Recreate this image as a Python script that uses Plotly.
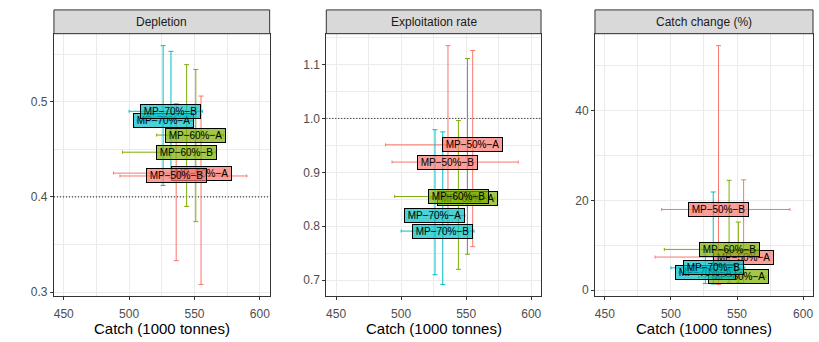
import plotly.graph_objects as go

# ---------------- data ----------------
mps = ["MP−50%−A", "MP−50%−B", "MP−60%−A", "MP−60%−B", "MP−70%−A", "MP−70%−B"]
groups = ["50%", "50%", "60%", "60%", "70%", "70%"]

catch_med = [555, 536, 551, 544, 526, 532]
catch_lo = [488, 493, 521, 495, 506, 500]
catch_hi = [574, 590, 572, 566, 549, 556]

dep_med = [0.425, 0.422, 0.465, 0.447, 0.480, 0.490]
dep_lo = [0.308, 0.333, 0.374, 0.390, 0.412, 0.420]
dep_hi = [0.506, 0.498, 0.534, 0.539, 0.559, 0.553]

exp_med = [0.951, 0.919, 0.852, 0.855, 0.820, 0.791]
exp_lo = [0.762, 0.790, 0.748, 0.720, 0.710, 0.692]
exp_hi = [1.126, 1.135, 1.111, 0.996, 0.979, 0.975]

cc_med = [7.4, 18.0, 3.0, 9.1, 4.0, 5.0]
cc_lo = [1.5, 1.3, 1.7, 1.6, 1.5, 1.4]
cc_hi = [24.6, 54.5, 15.2, 24.5, 9.0, 21.9]

panel_titles = ["Depletion", "Exploitation rate", "Catch change (%)"]
ref_lines = [0.4, 1.0, None]
x_ticks = [450, 500, 550, 600]
x_minor = [475, 525, 575]
y_ticks = [[0.3, 0.4, 0.5], [0.7, 0.8, 0.9, 1.0, 1.1], [0, 20, 40]]
y_minor = [[0.35, 0.45, 0.55], [0.75, 0.85, 0.95, 1.05, 1.15], [10, 30, 50]]
x_limits = [450, 600]

# ---------------- style ----------------
col = {"50%": (248, 118, 109), "60%": (124, 174, 0), "70%": (0, 191, 196)}
FONT = "Liberation Sans, Arial, Helvetica, sans-serif"
W, H = 819, 342
x_dom = [(54 / W, 270 / W), (326.7 / W, 541.7 / W), (595.7 / W, 814 / W)]
y_dom = (43 / H, 308 / H)
strip = (308 / H, 332 / H)

panels = [(dep_med, dep_lo, dep_hi), (exp_med, exp_lo, exp_hi), (cc_med, cc_lo, cc_hi)]

fig = go.Figure()
annotations = []
shapes = []


def expand(lo, hi, f=0.05):
    s = hi - lo
    return [lo - f * s, hi + f * s]


for p, (med, lo, hi) in enumerate(panels):
    sfx = "" if p == 0 else str(p + 1)
    xa, ya = "x" + sfx, "y" + sfx
    if ref_lines[p] is not None:
        fig.add_trace(go.Scatter(
            x=expand(*x_limits), y=[ref_lines[p]] * 2, mode="lines",
            line=dict(color="black", width=1, dash="1px,2px"),
            xaxis=xa, yaxis=ya, showlegend=False, hoverinfo="skip"))
    for j in range(len(mps)):
        r, g, b = col[groups[j]]
        c = f"rgb({r},{g},{b})"
        fig.add_trace(go.Scatter(
            x=[catch_med[j]], y=[med[j]], mode="markers",
            marker=dict(size=1, color="rgba(0,0,0,0)"),
            error_y=dict(type="data", symmetric=False,
                         array=[hi[j] - med[j]], arrayminus=[med[j] - lo[j]],
                         color=c, thickness=1, width=2.5),
            error_x=dict(type="data", symmetric=False,
                         array=[catch_hi[j] - catch_med[j]],
                         arrayminus=[catch_med[j] - catch_lo[j]],
                         color=c, thickness=1, width=1.5),
            xaxis=xa, yaxis=ya, showlegend=False, hoverinfo="skip"))
    for j in range(len(mps)):
        r, g, b = col[groups[j]]
        annotations.append(dict(
            x=catch_med[j], y=med[j], xref=xa, yref=ya, text=mps[j],
            showarrow=False, font=dict(family=FONT, size=10, color="black"),
            bgcolor=f"rgba({r},{g},{b},0.7)", bordercolor="black",
            borderwidth=1, borderpad=1.5, width=56, height=10,
            xanchor="center", yanchor="middle"))
    # strip
    shapes.append(dict(type="rect", xref="paper", yref="paper",
                       x0=x_dom[p][0], x1=x_dom[p][1], y0=strip[0], y1=strip[1],
                       fillcolor="#D9D9D9", line=dict(color="#333333", width=1)))
    annotations.append(dict(x=(x_dom[p][0] + x_dom[p][1]) / 2,
                            y=(strip[0] + strip[1]) / 2, xref="paper", yref="paper",
                            text=panel_titles[p], showarrow=False,
                            font=dict(family=FONT, size=12, color="#1A1A1A"),
                            xanchor="center", yanchor="middle"))
    annotations.append(dict(x=(x_dom[p][0] + x_dom[p][1]) / 2, y=11 / H,
                            xref="paper", yref="paper", text="Catch (1000 tonnes)",
                            showarrow=False,
                            font=dict(family=FONT, size=15, color="black"),
                            xanchor="center", yanchor="middle"))

    common = dict(showgrid=True, gridcolor="#EBEBEB", gridwidth=1,
                  ticks="outside", ticklen=3, tickcolor="#333333", tickwidth=1,
                  showline=True, mirror=True, linecolor="#333333", linewidth=1,
                  zeroline=False, tickfont=dict(family=FONT, size=12, color="#4D4D4D"))
    fig.update_layout(**{
        "xaxis" + sfx: dict(domain=list(x_dom[p]), anchor=ya,
                            range=expand(*x_limits), tickvals=x_ticks,
                            ticklabelstandoff=3,
                            minor=dict(tickvals=x_minor, showgrid=True,
                                       gridcolor="#EBEBEB", gridwidth=0.6),
                            **common),
        "yaxis" + sfx: dict(domain=list(y_dom), anchor=xa,
                            range=expand(min(lo), max(hi)), tickvals=y_ticks[p],
                            ticktext=[f"{v:g}" if p == 2 else f"{v:.1f}" for v in y_ticks[p]],
                            minor=dict(tickvals=y_minor[p], showgrid=True,
                                       gridcolor="#EBEBEB", gridwidth=0.6),
                            **common),
    })

fig.update_layout(width=W, height=H, margin=dict(l=0, r=0, t=0, b=0),
                  paper_bgcolor="white", plot_bgcolor="white",
                  annotations=annotations, shapes=shapes,
                  font=dict(family=FONT))
fig.write_html("out.html")
